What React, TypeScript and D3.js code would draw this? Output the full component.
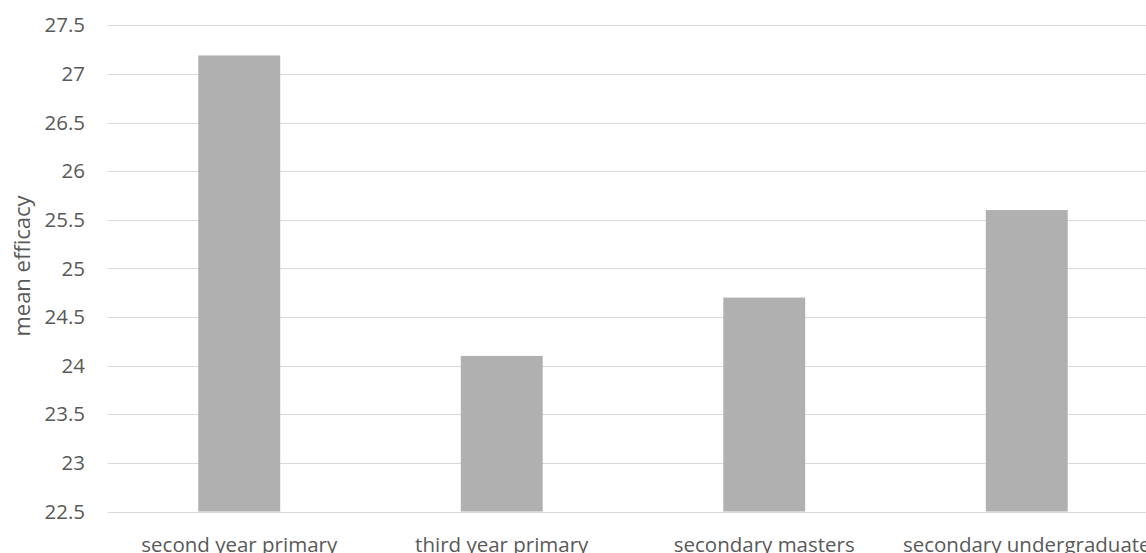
import React from "react";
import * as d3 from "d3";

const categories = ["second year primary", "third year primary", "secondary masters", "secondary undergraduate"];
const values = [27.19, 24.1, 24.7, 25.6];
const yTicks = [22.5, 23, 23.5, 24, 24.5, 25, 25.5, 26, 26.5, 27, 27.5];
const yTitle = "mean efficacy";

export default function App() {
  const W = 1146, H = 553;
  const font = "'Open Sans', sans-serif";
  const y = d3.scaleLinear().domain([22.5, 27.5]).range([511.5, 25.3]);
  const x = d3.scaleBand<string>().domain(categories).range([108, 1158]).paddingInner(0.688).paddingOuter(0.344);
  return (
    <svg width={W} height={H} style={{ position: "absolute", left: 0, top: 0, background: "#fff" }}>
      {yTicks.map((t) => (
        <g key={t}>
          <line x1={107.5} x2={W} y1={Math.round(y(t)) + 0.5} y2={Math.round(y(t)) + 0.5} stroke="#d9d9d9" strokeWidth={1} />
          <text x={85} y={y(t)} dy="0.35em" textAnchor="end" fontFamily={font} fontSize={20.5} fill="#595959">{t}</text>
        </g>
      ))}
      {categories.map((c, i) => (
        <rect key={c} x={x(c)} y={y(values[i])} width={x.bandwidth()} height={y(22.5) - y(values[i])} fill="#b0b0b0" />
      ))}
      {categories.map((c) => (
        <text key={c} x={(x(c) ?? 0) + x.bandwidth() / 2} y={552} textAnchor="middle" fontFamily={font} fontSize={20.5} fill="#595959">{c}</text>
      ))}
      <text transform={`translate(30,266) rotate(-90)`} textAnchor="middle" fontFamily={font} fontSize={22} fill="#595959">{yTitle}</text>
    </svg>
  );
}
